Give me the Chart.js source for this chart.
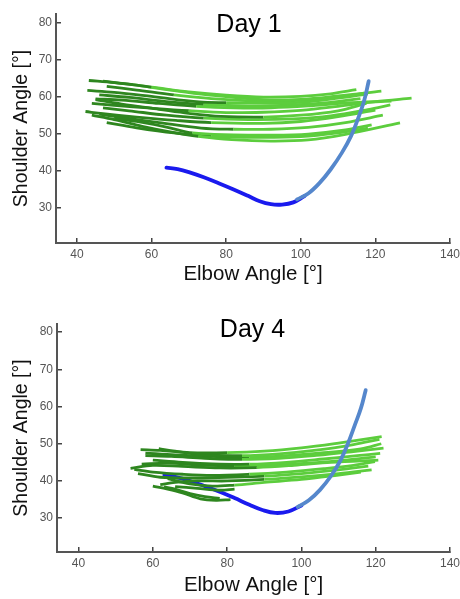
<!DOCTYPE html>
<html>
<head>
<meta charset="utf-8">
<script src="https://cdn.jsdelivr.net/npm/chart.js@4"></script>
<style>
  html, body { margin: 0; padding: 0; background: #fff; }
  #wrap { position: relative; width: 460px; height: 599px; }
  canvas { position: absolute; left: 0; }
</style>
</head>
<body>
<div id="wrap">
  <canvas id="day1" width="460" height="300" style="top:0"></canvas>
  <canvas id="day4" width="460" height="299" style="top:300px"></canvas>
</div>
<script>
// axis ticks
const xTicks = [40, 60, 80, 100, 120, 140];
const yTicks = [30, 40, 50, 60, 70, 80];

// Day 1 - hand path (elbow, shoulder) pairs
const d1Reach = [[64, 40.8], [67, 40.4], [70, 39.6], [74, 38.2], [78, 36.6], [82, 34.9], [86, 33.1], [89, 31.7], [92, 30.9], [95, 30.8], [98, 31.4], [101, 33.1]];
const d1Return = [[99, 32.2], [102, 33.8], [105, 36.6], [108, 40.3], [111, 44.8], [113.5, 49.4], [115.5, 54.5], [117, 59], [118.2, 64.2]];

const d1Trial1 = [[43.2, 64.4], [50, 63.8], [60, 62.6], [70, 61.3], [80, 60.4], [90, 59.9], [100, 60.1], [108, 60.8], [114.9, 61.9]];
const d1Trial2 = [[47, 64.2], [55, 63.3], [65, 61.8], [75, 60.5], [90, 59.2], [100, 59.3], [110, 60.2], [121.6, 61.5]];
const d1Trial3 = [[42.8, 61.7], [50, 61.2], [60, 60.1], [72.8, 58.6], [80, 58.4], [90, 58.3], [100, 58.5], [110, 59.6], [118, 60.8]];
const d1Trial4 = [[45, 59.4], [52, 59.1], [62, 58.2], [72, 57.4], [82, 57], [92, 57], [102, 57.5], [112, 58.3], [124.3, 58.8]];
const d1Trial5 = [[44, 58.2], [50, 57.7], [60, 56.9], [70, 56.2], [80, 55.7], [90, 55.8], [100, 56.3], [110, 57.4], [120, 58.7], [129.7, 59.6]];
const d1Trial6 = [[45, 59.2], [52, 58], [62, 56.6], [70, 55.5], [78.6, 54.7], [90, 54.5], [100, 55], [110, 56.2], [117.6, 58.2]];
const d1Trial7 = [[42.3, 56], [47, 55.4], [56, 54.5], [66.5, 53.6], [76, 53], [90, 52.8], [100, 53.3], [110, 54.6], [120, 56.4]];
const d1Trial8 = [[46, 55.3], [52, 54.4], [62, 53], [73.3, 51.5], [82, 51.2], [92, 51.2], [102, 51.7], [112, 53], [122, 55]];
const d1Trial9 = [[50, 54.2], [56, 53.3], [64, 51.8], [71, 50.2], [82, 49.7], [92, 49.6], [102, 49.9], [112, 51], [119, 52.4]];
const d1Trial10 = [[44, 55], [50, 53.8], [57.5, 52], [65, 50.5], [72.5, 49.3], [81.5, 48.4], [92, 48], [102, 48.3], [112, 49.8], [126.6, 52.9]];
const d1Trial11 = [[48, 62.8], [56, 61.8], [66, 60.5], [76, 59.5], [88, 58.9], [100, 59], [110, 59.8], [117, 61]];
const d1Trial12 = [[46, 60.5], [54, 59.8], [64, 58.7], [74, 57.9], [86, 57.5], [98, 57.8], [108, 58.5], [116, 59.5]];
const d1Trial13 = [[47, 57], [54, 56.2], [64, 55], [74, 54.2], [86, 53.8], [98, 54], [108, 54.8], [118, 56.5], [124, 57.8]];
const d1Trial14 = [[48, 53], [56, 51.6], [66, 50.2], [76, 49.3], [88, 49], [100, 49.2], [110, 50.2], [118, 51.5]];
const d1DarkUntil = [58, 51, 73, 66, 70, 79, 67, 74, 71, 72, 62, 70, 72, 76];

// Day 4
const d4Reach = [[63.1, 41.6], [66, 41.1], [70, 40], [74, 38.6], [78, 37.1], [82, 35.4], [86, 33.6], [89.5, 32.2], [93, 31.4], [96.5, 31.8], [100, 33.4]];
const d4Return = [[99, 33], [102, 34.8], [105, 37.6], [108, 41.4], [110.5, 45.5], [112.5, 50], [114.3, 54.8], [116, 59.5], [117.3, 64.4]];

const d4Trial1 = [[56.7, 48.4], [62, 48.2], [70, 47.6], [80, 47.6], [90, 48], [100, 48.9], [110, 50.2], [121.6, 51.9]];
const d4Trial2 = [[61.6, 48.7], [66, 48], [74, 47], [84, 46.8], [94, 47.3], [104, 48.3], [114, 49.8], [121, 51.2]];
const d4Trial3 = [[58, 46.8], [65, 46.6], [74, 46.1], [84, 45.8], [94, 46.1], [104, 46.9], [114, 47.9], [122.1, 48.8]];
const d4Trial4 = [[60, 45.6], [68, 45], [76, 44.6], [86, 44.5], [96, 45], [106, 45.9], [115, 46.8], [121.2, 47.4]];
const d4Trial5 = [[54, 43.4], [60, 44.2], [68, 43.9], [78, 43.5], [88, 43.6], [98, 44.2], [108, 45], [120.7, 45.6]];
const d4Trial6 = [[55, 43.1], [60, 42.4], [68, 41.8], [76, 41.5], [86, 41.8], [96, 42.4], [106, 43.3], [114, 44.2], [119.8, 45.2]];
const d4Trial7 = [[62, 39], [66, 39.6], [72, 40], [80, 40], [90, 40.4], [100, 41.1], [110, 42], [118.9, 43]];
const d4Trial8 = [[64, 40.6], [70, 39.2], [76, 38.6], [82, 38.9], [90, 39.6], [100, 40.4], [110, 41.6], [116, 42.4]];
const d4Trial9 = [[60, 38.6], [64, 37.8], [68, 36.8], [72.8, 35.2], [77, 34.8], [80.9, 35]];
const d4Trial10 = [[63, 38.4], [66, 37.8], [70, 36.6], [74, 35.8], [78, 35.3]];
const d4Trial11 = [[58, 47.5], [66, 47], [76, 46.6], [86, 46.3], [96, 46.8], [106, 47.6], [116, 48.6], [121.5, 50]];
const d4Trial12 = [[57, 44.5], [64, 44.8], [72, 44.3], [82, 44], [92, 44.2], [102, 44.8], [112, 45.6], [120, 46.5]];
const d4Trial13 = [[56, 42], [62, 41], [70, 40.8], [80, 41], [90, 41.3], [100, 42], [110, 43], [118, 44]];
const d4Trial14 = [[66, 38.5], [72, 38], [78, 37.5], [82, 37.8]];
const d4DarkUntil = [74, 76, 80, 78, 82, 80, 83, 82, 99, 99, 78, 80, 81, 99];

const lightGreen = '#5ccd3d';
const darkGreen = '#2e861f';
const font = '"Liberation Sans", Arial, sans-serif';

function trialSet(points, cut) {
  return {
    data: points.map(([x, y]) => ({ x, y })),
    showLine: true,
    pointRadius: 0,
    borderWidth: 2.8,
    tension: 0.35,
    borderColor: lightGreen,
    segment: { borderColor: c => (c.p0.parsed.x < cut ? darkGreen : lightGreen) }
  };
}

function pathSet(points, color) {
  return {
    data: points.map(([x, y]) => ({ x, y })),
    showLine: true,
    pointRadius: 0,
    borderWidth: 3.8,
    borderCapStyle: 'round',
    tension: 0.4,
    borderColor: color
  };
}

// draws the "Day N" heading inside the plot
const dayTitle = {
  id: 'dayTitle',
  afterDraw(chart, args, opts) {
    const ctx = chart.ctx;
    ctx.save();
    ctx.font = '25px ' + font;
    ctx.fillStyle = '#000';
    ctx.textAlign = 'center';
    ctx.textBaseline = 'alphabetic';
    ctx.fillText(opts.text, opts.x, opts.y);
    ctx.restore();
  }
};

function makeChart(id, trials, cuts, reach, ret, cfg) {
  const datasets = [pathSet(ret, '#5587cc')]
    .concat(trials.map((t, i) => trialSet(t, cuts[i])))
    .concat([pathSet(reach, '#1a1aee')]);

  return new Chart(document.getElementById(id), {
    type: 'scatter',
    data: { datasets },
    plugins: [dayTitle],
    options: {
      responsive: false,
      animation: false,
      layout: { padding: { top: cfg.top, right: 10, left: 0, bottom: 0 } },
      plugins: {
        legend: { display: false },
        tooltip: { enabled: false },
        dayTitle: { text: cfg.title, x: cfg.titleX, y: cfg.titleY }
      },
      scales: {
        x: {
          type: 'linear',
          min: cfg.xMin,
          max: 140,
          afterBuildTicks: s => { s.ticks = xTicks.map(v => ({ value: v })); },
          afterFit: s => { s.height = cfg.bottomH; s.paddingLeft = 0; s.paddingRight = 0; },
          ticks: { color: '#555', font: { size: 12, family: font }, padding: 9, maxRotation: 0 },
          grid: { drawOnChartArea: false, drawTicks: true, tickLength: -5, color: '#444', lineWidth: 1.5 },
          border: { display: true, color: '#555', width: 2 },
          title: { display: true, text: 'Elbow Angle [°]', color: '#111', font: { size: 20.5, family: font }, padding: { top: 0, bottom: cfg.xTitlePad } }
        },
        y: {
          type: 'linear',
          min: cfg.yMin,
          max: cfg.yMax,
          afterBuildTicks: s => { s.ticks = yTicks.map(v => ({ value: v })); },
          afterFit: s => { s.width = cfg.leftW; s.paddingTop = 0; s.paddingBottom = 0; },
          ticks: { color: '#555', font: { size: 12, family: font }, padding: 9 },
          grid: { drawOnChartArea: false, drawTicks: true, tickLength: -5, color: '#444', lineWidth: 1.5 },
          border: { display: true, color: '#555', width: 2 },
          title: { display: true, text: 'Shoulder Angle [°]', color: '#111', font: { size: 19.5, family: font }, padding: { top: 10, bottom: 0 } }
        }
      }
    }
  });
}

makeChart('day1',
  [d1Trial1, d1Trial2, d1Trial3, d1Trial4, d1Trial5, d1Trial6, d1Trial7, d1Trial8, d1Trial9, d1Trial10, d1Trial11, d1Trial12, d1Trial13, d1Trial14],
  d1DarkUntil, d1Reach, d1Return,
  { title: 'Day 1', titleX: 249, titleY: 32, top: 14, bottomH: 57, leftW: 56, xMin: 34.4, yMin: 20.4, yMax: 82.4, xTitlePad: 13 });

makeChart('day4',
  [d4Trial1, d4Trial2, d4Trial3, d4Trial4, d4Trial5, d4Trial6, d4Trial7, d4Trial8, d4Trial9, d4Trial10, d4Trial11, d4Trial12, d4Trial13, d4Trial14],
  d4DarkUntil, d4Reach, d4Return,
  { title: 'Day 4', titleX: 252.5, titleY: 36.5, top: 24, bottomH: 47, leftW: 57, xMin: 34.2, yMin: 20.9, yMax: 82.2, xTitlePad: 1 });
</script>
</body>
</html>
